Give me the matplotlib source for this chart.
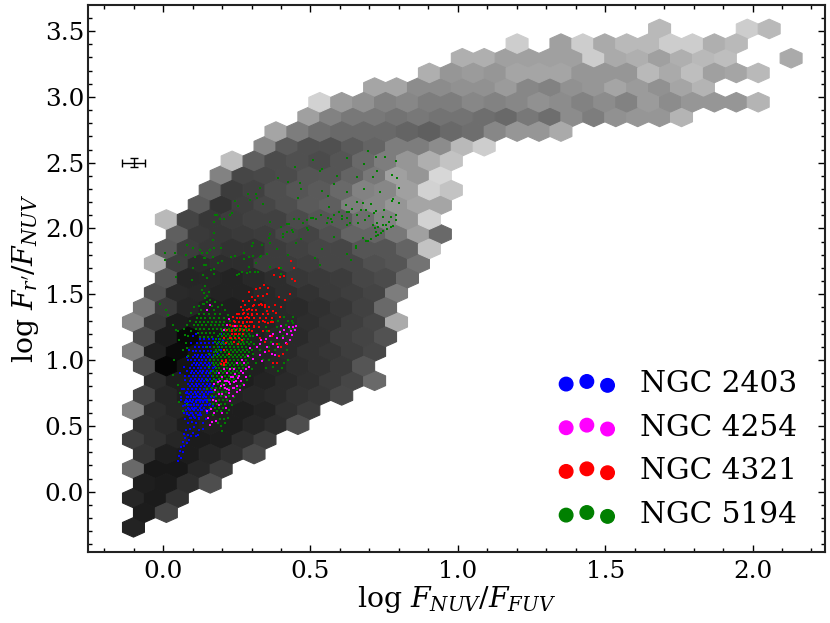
# %%

import numpy as np
import matplotlib
matplotlib.use("Agg")
import matplotlib.pyplot as plt

plt.rcParams["font.family"] = "DejaVu Serif"
plt.rcParams["mathtext.fontset"] = "dejavuserif"

# %%
# hex map: first column and gray level (0-255) per row, -1 = empty

hex_x0, hex_dx = -0.1007, 0.07439
hex_y0, hex_dy = -0.2705, 0.11137

hex_start = [0, 0, 0, 0, 0, 0, 0, 0, 0, 0, 1, 0, 0, 0, 0, 0, 1, 1, 1, 1, 2, 1, 3, 3, 4, 4, 6, 6, 8, 8, 11, 13, 15, 17, 24]
hex_gray = [
    [35],
    [28, 68],
    [38, 27, 50],
    [30, 27, 45, 78],
    [105, 24, 24, 40, 60],
    [52, 30, 28, 38, 48, 72],
    [62, 48, 38, 28, 30, 45, 60],
    [48, 42, 30, 32, 30, 38, 45, 78],
    [130, 45, 38, 34, 30, 30, 35, 48, 60],
    [68, 38, 30, 35, 35, 38, 42, 50, 55, 72],
    [44, 30, 28, 26, 30, 35, 42, 48, 58, 70, 105],
    [78, 5, 20, 28, 28, 32, 38, 46, 50, 58, 85],
    [125, 32, 10, 22, 25, 28, 35, 42, 50, 54, 62, 70],
    [75, 28, 8, 22, 28, 32, 38, 42, 50, 62, 68, 82],
    [135, 55, 28, 25, 28, 30, 35, 40, 45, 52, 62, 70, 170],
    [118, 58, 38, 30, 30, 32, 40, 42, 48, 55, 65, 105],
    [80, 42, 40, 35, 35, 40, 45, 50, 58, 62, 68, 125],
    [85, 38, 38, 35, 40, 45, 55, 58, 60, 70, 75, 105],
    [175, 62, 42, 45, 45, 60, 60, 62, 70, 70, 80, 85, 115],
    [90, 60, 55, 50, 50, 60, 65, 70, 70, 85, 85, 100, 195],
    [95, 58, 55, 58, 60, 70, 68, 80, 100, 100, 120, 160, 105],
    [185, 68, 55, 60, 65, 65, 75, 85, 90, 110, 130, 150, 210],
    [90, 50, 62, 70, 78, 90, 95, 125, 135, 150, 165, 165],
    [100, 60, 65, 78, 85, 90, 105, 130, 135, 160, 210, 195],
    [130, 70, 72, 75, 85, 85, 100, 120, 160, 150, 215],
    [190, 95, 75, 80, 75, 85, 105, 125, 150, 175, 195],
    [135, 90, 80, 80, 90, 100, 125, 125, 140, 185, 205],
    [165, 125, 110, 105, 105, 105, 100, 95, 105, 110, 135, 150, 150, 170],
    [160, 130, 120, 120, 115, 120, 115, 115, 110, 105, 120, 110, 140, 125, 145, 150, 150, 180],
    [210, 155, 145, 130, 135, 125, 125, 135, 130, 135, 145, 140, 130, 140, 130, 155, 140, 150, 150, 150, 180],
    [165, 165, 140, 140, 145, 145, 155, 135, 130, 145, 150, 165, 155, 145, 165, 180],
    [175, 150, 155, 150, 165, 165, 165, 150, 150, 150, 185, 170, 190, 160, 165, 185],
    [175, 175, 160, 160, 160, 160, 205, 170, 175, 160, 175, 185, 190, -1, -1, 170],
    [205, -1, 160, 205, 170, 185, 185, 205, 205, 175, 185],
    [185, -1, -1, -1, 205, 185],
]

# %%
# galaxy points

ngc2403 = [
    (.052, .23), (.054, .27), (.060, .26), (.057, .31), (.066, .30), (.062, .34), (.070, .35), (.066, .38), (.080, .37),
    (.075, .41), (.088, .39), (.071, .44), (.083, .43), (.095, .42), (.100, .45), (.078, .47), (.090, .48), (.105, .49),
    (.085, .52), (.097, .53), (.112, .52), (.074, .55), (.090, .56), (.104, .57), (.120, .55), (.082, .59), (.095, .60),
    (.110, .60), (.125, .58), (.078, .62), (.088, .63), (.100, .63), (.113, .64), (.128, .62), (.084, .66), (.094, .66),
    (.104, .67), (.116, .66), (.130, .65), (.142, .66), (.080, .69), (.090, .69), (.100, .70), (.110, .69), (.122, .70),
    (.134, .69), (.150, .70), (.086, .72), (.096, .73), (.106, .72), (.116, .73), (.126, .72), (.138, .73), (.076, .75),
    (.065, .78), (.060, .70), (.056, .90), (.110, .42), (.122, .47), (.134, .52), (.148, .60), (.160, .67), (.164, .76),
    (.204, 1.15), (.212, 1.18), (.198, 1.20), (.073, .85), (.080, .92), (.085, 1.00), (.07, .60), (.068, .65), (.062, .72),
    (.07, .78), (.075, .88), (.07, .95), (.082, 1.02), (.088, 1.08), (.095, 1.13), (.1, 1.18), (.11, 1.20), (.175, .95),
    (.18, .90), (.18, .98), (.178, .85), (.172, .72), (.168, .65), (.155, .62), (.145, .55), (.135, .48), (.118, .43),
    (.185, 1.05), (.195, 1.08), (.21, 1.12), (.08, .75), (.075, .68),
]

# y, then the x values along that y
ngc2403_rows = [
    (.56, .095, .108, .121), (.58, .088, .101, .117, .13), (.60, .082, .097, .112, .126), (.62, .09, .104, .118, .133, .146),
    (.64, .086, .099, .108, .124, .139), (.66, .075, .092, .105, .117, .131, .145, .155), (.68, .083, .097, .111, .124, .136, .15),
    (.70, .078, .09, .102, .116, .128, .141, .158), (.72, .082, .095, .109, .121, .134, .147, .162),
    (.74, .088, .1, .113, .126, .139, .153), (.76, .08, .094, .107, .119, .131, .144, .157, .168),
    (.78, .086, .099, .112, .125, .137, .149, .162), (.80, .091, .104, .116, .128, .142, .155, .17),
    (.82, .084, .097, .11, .122, .135, .148, .16), (.84, .09, .102, .115, .127, .14, .153, .166),
    (.86, .095, .108, .12, .133, .146, .158), (.88, .088, .101, .113, .125, .138, .151, .165),
    (.90, .094, .106, .119, .132, .145, .157), (.92, .099, .111, .124, .136, .149, .162),
    (.94, .092, .105, .117, .129, .142, .155, .168), (.96, .098, .11, .122, .135, .148, .16),
    (.98, .103, .116, .128, .141, .154, .166), (1.0, .096, .108, .121, .133, .147, .16, .172),
    (1.02, .102, .114, .127, .139, .152, .165), (1.04, .107, .119, .132, .145, .158, .171),
    (1.07, .101, .113, .125, .138, .151, .164, .178), (1.10, .108, .121, .134, .147, .16, .174, .188),
    (1.13, .116, .129, .142, .156, .17, .185, .2), (1.16, .125, .14, .155, .17, .19),
]

ngc4254 = [
    (.152, .56), (.160, .51), (.166, .53), (.150, .61), (.162, .63), (.172, .60), (.180, .54), (.168, .70), (.180, .69),
    (.190, .66), (.200, .60), (.212, .64), (.176, .77), (.188, .74), (.200, .74), (.214, .72), (.226, .69), (.238, .73),
    (.172, .82), (.186, .83), (.198, .80), (.210, .79), (.224, .77), (.236, .79), (.246, .84), (.256, .88), (.210, .84),
    (.224, .83), (.236, .87), (.264, .92), (.274, .98), (.288, 1.03), (.296, 1.09), (.306, 1.01), (.318, 1.10), (.328, 1.04),
    (.336, .99), (.344, 1.06), (.354, 1.10), (.362, 1.18), (.372, 1.12), (.380, 1.04), (.388, 1.17), (.396, 1.21),
    (.408, 1.17), (.420, 1.20), (.434, 1.22), (.442, 1.25), (.452, 1.26), (.448, 1.23), (.418, 1.13), (.374, 1.20),
    (.150, 1.38), (.158, 1.42), (.205, 1.23), (.217, 1.27), (.225, 1.31), (.244, 1.26), (.318, 1.19), (.332, 1.15),
    (.268, 1.00), (.280, .93), (.252, .98), (.240, .93), (.228, .93), (.190, .90), (.205, .93), (.292, .95),
    (.33, 1.12), (.35, 1.16), (.37, 1.05), (.39, 1.10), (.41, 1.23), (.43, 1.15), (.40, 1.26), (.426, 1.25), (.438, 1.19),
    (.19, .90), (.215, .905), (.245, .895), (.27, .90), (.2, .87), (.23, .875), (.255, .865), (.282, .87), (.192, .84),
    (.218, .845), (.24, .835), (.265, .84), (.205, .81), (.228, .815), (.252, .805), (.275, .81), (.215, .78), (.24, .785),
    (.262, .775), (.225, .75), (.25, .755),
]

ngc4321 = [
    (.205, 1.08), (.214, 1.13), (.226, 1.17), (.234, 1.22), (.206, 1.17), (.218, 1.23), (.228, 1.27), (.240, 1.30),
    (.250, 1.26), (.236, 1.33), (.250, 1.35), (.262, 1.32), (.248, 1.20), (.260, 1.24), (.270, 1.28), (.274, 1.36),
    (.286, 1.33), (.264, 1.40), (.278, 1.42), (.290, 1.39), (.300, 1.34), (.292, 1.45), (.304, 1.41), (.316, 1.38),
    (.300, 1.48), (.312, 1.46), (.322, 1.49), (.332, 1.43), (.344, 1.40), (.352, 1.37), (.340, 1.49), (.352, 1.50),
    (.330, 1.55), (.342, 1.57), (.356, 1.55), (.372, 1.37), (.384, 1.36), (.396, 1.33), (.340, 1.30), (.356, 1.28),
    (.372, 1.29), (.392, 1.48), (.414, 1.46), (.430, 1.50), (.375, 1.65), (.392, 1.70), (.398, 1.63), (.410, 1.64),
    (.438, 1.62), (.444, 1.70), (.434, 1.75), (.448, 1.60), (.330, 1.17), (.346, 1.14), (.360, 1.07), (.374, .98),
    (.386, .98), (.392, 1.03), (.406, 1.05), (.420, 1.12), (.282, 1.25), (.294, 1.29), (.268, 1.15), (.224, 1.05),
    (.240, 1.14), (.254, 1.12), (.212, 1.00), (.205, .96), (.196, .97), (.290, 1.52), (.314, 1.54), (.272, 1.45),
    (.205, .975), (.212, .985), (.200, .99), (.208, .96), (.31, 1.25), (.325, 1.25), (.34, 1.22), (.30, 1.22), (.36, 1.22),
    (.37, 1.18), (.385, 1.12), (.40, 1.10), (.36, 1.40), (.38, 1.42), (.40, 1.40),
]

ngc4321_rows = [
    (1.42, .31, .325, .335, .345), (1.38, .27, .285, .3, .315), (1.35, .258, .272, .287, .302, .32, .34, .355),
    (1.32, .25, .263, .277, .292, .31, .33, .35, .37), (1.29, .243, .256, .27, .284, .3, .325, .345, .365),
    (1.26, .238, .25, .264, .278, .292, .31), (1.23, .235, .248, .262, .276, .29), (1.20, .232, .245, .258, .272),
    (1.17, .23, .243, .256),
]

ngc5194 = [
    (.131, 1.53), (.137, 1.51), (.142, 1.56), (.148, 1.49), (.154, 1.52), (.142, 1.47), (.150, 1.44), (.134, 1.43),
    (.159, 1.46), (-.010, 1.43), (.010, 1.38), (.018, 1.34), (.033, 1.27), (.044, 1.23), (.052, 1.22), (.055, 1.15),
    (.069, 1.08), (.038, 1.00), (.033, .89), (.052, .81), (.058, .75), (.055, .68), (.080, .67), (.069, .61),
    (.425, 1.30), (.436, 1.30), (.386, 1.25), (.374, .95), (.403, .94), (.425, 1.00), (.408, 1.18), (.395, 1.22),
    (.416, 1.27), (.430, 1.24), (.440, 1.28), (.352, 1.22), (.366, 1.14), (.380, 1.08), (.392, 1.12), (.360, 1.00),
    (.078, 1.13), (.082, 1.09), (.074, 1.19), (.070, 1.24), (.086, 1.03), (.198, .50), (.200, .46), (.192, .55), (.206, .55),
    (.150, .78), (.156, .70), (.12, 1.41), (.14, 1.43), (.165, 1.41), (.185, 1.40),
    (.09, 1.30), (.095, 1.36), (.105, 1.40), (.08, 1.27), (.095, 1.22), (.085, 1.18), (.22, 1.34), (.21, 1.38), (.20, 1.42),
    (.175, 1.44), (.228, 1.30), (.15, 1.10), (.155, 1.05), (.16, 1.00), (.155, .95), (.16, .90), (.15, .85), (.305, 1.05),
    (.31, 1.12), (.305, 1.18), (.315, .98), (.30, .93), (.295, .88), (.285, .85), (.27, .82), (.26, .80), (.25, .78),
    (.24, .72), (.235, .66), (.225, .62), (.22, .56), (.215, .60), (.21, .52), (.185, .52), (.17, .58), (.16, .64),
    (.32, 1.20), (.33, 1.08), (.34, 1.00), (.35, 1.25), (.37, 1.30), (.39, 1.30), (.41, 1.33), (.44, 1.33), (.42, 1.08),
    (.41, .98), (.39, .92), (.35, .94), (.36, 1.10), (.445, 1.24),
    # upper cloud
    (.007, 1.816), (.041, 1.816), (.080, 1.874), (.078, 1.798), (.100, 1.849), (.055, 1.748), (.007, 1.760), (.125, 1.836),
    (.131, 1.811), (.148, 1.816), (.159, 1.836), (.174, 1.849), (.196, 1.849), (.168, 1.912), (.173, 1.963), (.108, 1.780),
    (.137, 1.773), (.142, 1.773), (.168, 1.786), (.185, 1.740), (.199, 1.753), (.137, 1.722), (.145, 1.722), (.101, 1.702),
    (.162, 1.684), (.171, 1.690), (.173, 1.654), (.134, 1.644), (.150, 1.621), (.044, 1.634), (.098, 1.608),
    (.176, 2.102), (.184, 2.102), (.173, 2.052), (.193, 2.072), (.208, 2.072), (.227, 2.102), (.235, 2.115), (.245, 2.211),
    (.253, 2.171), (.289, 2.262), (.314, 2.262), (.327, 2.305), (.295, 2.216), (.318, 2.234), (.340, 2.183), (.391, 2.381),
    (.422, 2.353), (.449, 2.470), (.508, 2.520), (.532, 2.439), (.540, 2.455), (.464, 2.343), (.467, 2.300), (.459, 2.229),
    (.540, 2.287), (.560, 2.249), (.580, 2.335), (.590, 2.401), (.625, 2.533), (.659, 2.389), (.625, 2.275), (.683, 2.490),
    (.695, 2.591), (.722, 2.543), (.754, 2.546), (.790, 2.510), (.727, 2.437), (.711, 2.389), (.778, 2.409), (.793, 2.384),
    (.799, 2.308), (.681, 2.300), (.737, 2.280), (.779, 2.222), (.775, 2.211), (.801, 2.191), (.620, 2.178), (.564, 2.161),
    (.659, 2.199), (.679, 2.196), (.706, 2.186), (.688, 2.140), (.724, 2.135), (.748, 2.140), (.670, 2.140), (.640, 2.145),
    (.623, 2.128), (.629, 2.128), (.598, 2.128), (.580, 2.102), (.606, 2.095), (.624, 2.077), (.606, 2.069), (.568, 2.072),
    (.560, 2.077), (.572, 2.052), (.557, 2.039), (.534, 2.102), (.519, 2.072), (.508, 2.082), (.502, 2.077), (.487, 2.064),
    (.462, 2.069), (.473, 2.039), (.445, 2.069), (.419, 2.034), (.426, 2.031), (.399, 2.014), (.363, 2.047), (.487, 2.001),
    (.493, 1.988), (.436, 1.988), (.442, 1.971), (.419, 1.976), (.406, 1.955), (.408, 1.938), (.467, 1.917), (.450, 1.887),
    (.363, 1.955), (.360, 1.925), (.363, 1.887), (.306, 1.892), (.300, 1.869), (.337, 1.874), (.388, 1.841), (.352, 1.806),
    (.333, 1.791), (.329, 1.786), (.306, 1.793), (.273, 1.811), (.290, 1.786), (.245, 1.791), (.230, 1.786), (.275, 1.765),
    (.314, 1.740), (.363, 1.710), (.401, 1.702), (.290, 1.710), (.267, 1.672), (.284, 1.664), (.256, 1.654), (.250, 1.644),
    (.295, 1.672), (.313, 1.672), (.323, 1.667), (.399, 1.654), (.423, 1.798), (.538, 1.841), (.581, 1.933), (.623, 1.803),
    (.637, 1.760), (.532, 1.722), (.515, 1.773), (.654, 1.867), (.656, 1.849), (.677, 1.928), (.688, 1.907), (.695, 1.907),
    (.705, 1.917), (.722, 1.943), (.730, 1.950), (.738, 1.963), (.745, 1.983), (.758, 1.993), (.773, 2.014), (.779, 2.019),
    (.719, 2.004), (.722, 1.976), (.729, 2.014), (.747, 2.026), (.756, 2.026), (.713, 2.026), (.685, 2.064), (.660, 2.044),
    (.634, 2.039), (.659, 2.102), (.697, 2.095), (.717, 2.115), (.747, 2.090), (.772, 2.090), (.790, 2.102), (.789, 2.064),
    (.767, 2.052), (.725, 2.044), (.623, 2.026),
]

ngc5194_rows = [
    # top arm
    (1.38, .13, .15, .172), (1.35, .12, .138, .156, .175, .193), (1.32, .115, .128, .143, .158, .172, .188, .205),
    (1.29, .11, .124, .137, .151, .165, .179, .194, .208), (1.265, .105, .119, .133, .147, .161, .175, .19, .204, .218),
    (1.235, .112, .126, .14, .155, .169, .183, .197, .21), (1.205, .118, .132, .146, .16, .174), (1.175, .125, .139, .153, .167),
    # core
    (1.26, .23, .245, .26, .275), (1.24, .21, .225, .24, .252, .266, .28, .292), (1.22, .2, .214, .228, .243, .257, .27, .285),
    (1.20, .192, .207, .219, .234, .248, .262, .276, .29), (1.18, .186, .2, .213, .227, .24, .254, .268, .282, .296),
    (1.16, .18, .194, .207, .221, .234, .247, .26, .274, .288), (1.14, .176, .19, .203, .216, .229, .242, .256, .27, .283, .298),
    (1.12, .182, .195, .208, .222, .235, .249, .263, .276, .29), (1.10, .174, .187, .2, .214, .227, .241, .254, .268, .282),
    (1.08, .178, .191, .205, .218, .231, .245, .259, .272, .286, .3), (1.06, .171, .184, .197, .21, .224, .238, .251, .265, .278, .292),
    (1.04, .176, .19, .203, .217, .23, .244, .257, .271, .285), (1.02, .169, .182, .196, .209, .222, .236, .25, .263, .277, .29),
    (1.00, .174, .187, .201, .214, .228, .241, .255, .268, .282), (.98, .168, .181, .194, .208, .221, .235, .248, .262, .276, .288),
    (.96, .173, .186, .2, .213, .227, .24, .254, .267, .28), (.94, .178, .191, .205, .218, .232, .245, .259, .272),
    (.92, .17, .184, .197, .211, .224, .238, .251, .265), (.90, .176, .19, .203, .217, .23, .243, .256),
    (.88, .168, .182, .196, .209, .222, .236, .249), (.86, .174, .188, .201, .215, .228, .241), (.84, .166, .18, .194, .207, .221, .234),
    # lower lobe
    (.82, .172, .186, .2, .213, .226), (.79, .165, .18, .194, .208, .222), (.76, .171, .186, .2, .214),
    (.73, .166, .18, .195, .21, .224), (.70, .174, .188, .203, .217), (.67, .168, .182, .197, .211),
    (.64, .176, .19, .204), (.61, .184, .198),
]

names = ["NGC 2403", "NGC 4254", "NGC 4321", "NGC 5194"]
colors = ["blue", "magenta", "red", "green"]

err_x, err_y = -0.1, 2.5
err_xerr, err_yerr = 0.04, 0.035


def expand(rows):
    # (y, x, x, ...) rows -> x and y arrays
    xs, ys = [], []
    for row in rows:
        xs += list(row[1:])
        ys += [row[0]] * (len(row) - 1)
    return xs, ys


# %%

hx, hy, hc = [], [], []
for r, (start, row) in enumerate(zip(hex_start, hex_gray)):
    for i, g in enumerate(row):
        if g < 0:
            continue
        hx.append(hex_x0 + hex_dx * (start + i + 0.5 * (r % 2)))
        hy.append(hex_y0 + hex_dy * r)
        hc.append(g)

nx, ny = 32, 18
extent = (hex_x0, hex_x0 + nx * hex_dx, hex_y0, hex_y0 + ny * 2 * hex_dy)

fig = plt.figure(figsize=(8.3, 6.23), dpi=100)
ax = fig.add_axes([88.3 / 830, 1 - 551.5 / 623, (825 - 88.3) / 830, (551.5 - 5) / 623])

ax.hexbin(hx, hy, C=hc, gridsize=(nx, ny), extent=extent, cmap="gray", vmin=0, vmax=255, linewidths=0.8)

for z, (col, pts, rows) in enumerate([
    ("blue", ngc2403, ngc2403_rows),
    ("green", ngc5194, ngc5194_rows),
    ("magenta", ngc4254, []),
    ("red", ngc4321, ngc4321_rows),
]):
    pts = np.array(pts)
    ax.scatter(pts[:, 0], pts[:, 1], s=4, c=col, marker="s", linewidths=0, zorder=3 + z)
    xs, ys = expand(rows)
    ax.scatter(xs, ys, s=4.5, c=col, marker="s", linewidths=0, zorder=3 + z)
for name, col in zip(names, colors):
    ax.scatter([], [], s=95, c=col, label=name)

ax.errorbar([err_x], [err_y], xerr=[err_xerr], yerr=[err_yerr], color="k", lw=1, capsize=3, capthick=1)

ax.set_xlim(-0.254, 2.246)
ax.set_ylim(-0.454, 3.698)
ax.set_xticks(np.arange(0, 2.1, 0.5))
ax.set_yticks(np.arange(0, 3.6, 0.5))
ax.set_xticks(np.arange(-0.2, 2.25, 0.1), minor=True)
ax.set_yticks(np.arange(-0.4, 3.7, 0.1), minor=True)
ax.tick_params(which="major", direction="in", top=True, right=True, length=5, width=1, labelsize=17.7)
ax.tick_params(axis="x", which="major", pad=6)
ax.tick_params(axis="y", which="major", pad=3)
ax.tick_params(which="minor", direction="in", top=True, right=True, length=3, width=1)
for s in ax.spines.values():
    s.set_linewidth(1.5)
    s.set_color("#222222")

ax.set_xlabel(r"log $F_{NUV}/F_{FUV}$", fontsize=20.3, labelpad=1)
ax.set_ylabel(r"log $F_{r'}/F_{NUV}$", fontsize=20.3, labelpad=3)
ax.legend(loc="lower right", frameon=False, fontsize=21.3, scatterpoints=3, labelspacing=0.53,
          bbox_to_anchor=(0.9986, -0.0073))

fig.savefig("out.png", dpi=100)
